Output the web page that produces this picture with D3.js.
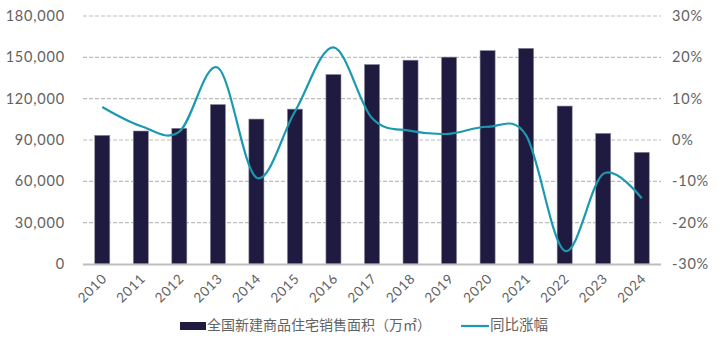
<!DOCTYPE html>
<html>
<head>
<meta charset="utf-8">
<script src="https://cdn.jsdelivr.net/npm/d3@7/dist/d3.min.js"></script>
<style>
  html, body { margin: 0; padding: 0; background: #fff; }
  svg { display: block; }
  text { font-family: "Lato", "Noto Sans", "Noto Sans CJK SC", sans-serif; }
</style>
</head>
<body>
<svg id="chart" width="719" height="348"></svg>
<script>
// Yearly series
const years = ["2010","2011","2012","2013","2014","2015","2016","2017","2018","2019","2020","2021","2022","2023","2024"];
const salesArea = [93377, 96528, 98468, 115723, 105188, 112412, 137540, 144789, 147929, 150144, 154878, 156532, 114631, 94796, 81070];
const yoyGrowth = [8.0, 3.4, 2.0, 17.5, -9.1, 6.9, 22.4, 5.3, 2.2, 1.5, 3.2, 1.1, -26.8, -8.2, -14.1];
const leftTicks = [0, 30000, 60000, 90000, 120000, 150000, 180000];
const rightTicks = [-30, -20, -10, 0, 10, 20, 30];
const seriesNames = ["全国新建商品住宅销售面积（万㎡）", "同比涨幅"];

const svg = d3.select("#chart");
const margin = { left: 83, right: 58, top: 16, bottom: 84 };
const W = 719, H = 348;
const plotL = margin.left, plotR = W - margin.right, plotT = margin.top, plotB = H - margin.bottom;

const x = d3.scaleBand().domain(years).range([plotL, plotR]).paddingInner(0.61).paddingOuter(0.305);
const yL = d3.scaleLinear().domain([0, 180000]).range([plotB, plotT]);
const yR = d3.scaleLinear().domain([-30, 30]).range([plotB, plotT]);

const barColor = "#1f1a3f";
const lineColor = "#1b9aaf";
const textColor = "#626262";

// dashed gridlines
svg.append("g").selectAll("line")
  .data(leftTicks.filter(d => d > 0))
  .join("line")
  .attr("x1", plotL).attr("x2", plotR)
  .attr("y1", d => yL(d)).attr("y2", d => yL(d))
  .attr("stroke", "#bdbdbd").attr("stroke-width", 1.2)
  .attr("stroke-dasharray", "4,2");

// left axis
const axL = svg.append("g").attr("transform", `translate(${plotL},0)`)
  .call(d3.axisLeft(yL).tickValues(leftTicks).tickFormat(d3.format(",")).tickSize(0).tickPadding(18));
axL.select(".domain").remove();
axL.selectAll("text").attr("font-size", 14.5).attr("letter-spacing", 0.8).attr("fill", textColor);

// right axis
const axR = svg.append("g").attr("transform", `translate(${plotR},0)`)
  .call(d3.axisRight(yR).tickValues(rightTicks).tickFormat(d => d + "%").tickSize(0).tickPadding(11));
axR.select(".domain").remove();
axR.selectAll("text").attr("font-size", 14.5).attr("letter-spacing", 0.8).attr("fill", textColor);

// bars
svg.append("g").selectAll("rect")
  .data(years)
  .join("rect")
  .attr("x", d => x(d))
  .attr("width", x.bandwidth())
  .attr("y", (d, i) => yL(salesArea[i]))
  .attr("height", (d, i) => yL(0) - yL(salesArea[i]))
  .attr("fill", barColor)
  .attr("stroke", "#8a8799").attr("stroke-width", 0.6);

// baseline
svg.append("line")
  .attr("x1", plotL).attr("x2", plotR)
  .attr("y1", plotB + 0.5).attr("y2", plotB + 0.5)
  .attr("stroke", "#bdbdbd").attr("stroke-width", 2);

// x labels
svg.append("g").selectAll("text")
  .data(years)
  .join("text")
  .attr("transform", d => `translate(${x(d) + x.bandwidth() / 2 + 3},${plotB + 13}) rotate(-45)`)
  .attr("text-anchor", "end")
  .attr("dominant-baseline", "middle")
  .attr("font-size", 13.5)
  .attr("letter-spacing", 0.7)
  .attr("fill", textColor)
  .text(d => d);

// growth line
const line = d3.line()
  .x((d, i) => x(years[i]) + x.bandwidth() / 2)
  .y(d => yR(d))
  .curve(d3.curveCardinal.tension(0));
svg.append("path")
  .datum(yoyGrowth)
  .attr("d", line)
  .attr("fill", "none")
  .attr("stroke", lineColor)
  .attr("stroke-width", 2.2);

// legend
const lg = svg.append("g");
lg.append("rect").attr("x", 180).attr("y", 322).attr("width", 26).attr("height", 8).attr("fill", barColor);
lg.append("text").attr("x", 207).attr("y", 326).attr("dominant-baseline", "middle")
  .attr("font-size", 14).attr("fill", textColor).text(seriesNames[0]);
lg.append("line").attr("x1", 461).attr("x2", 489).attr("y1", 326).attr("y2", 326)
  .attr("stroke", lineColor).attr("stroke-width", 2.2);
lg.append("text").attr("x", 490).attr("y", 326).attr("dominant-baseline", "middle")
  .attr("font-size", 14.5).attr("fill", textColor).text(seriesNames[1]);
</script>
</body>
</html>
